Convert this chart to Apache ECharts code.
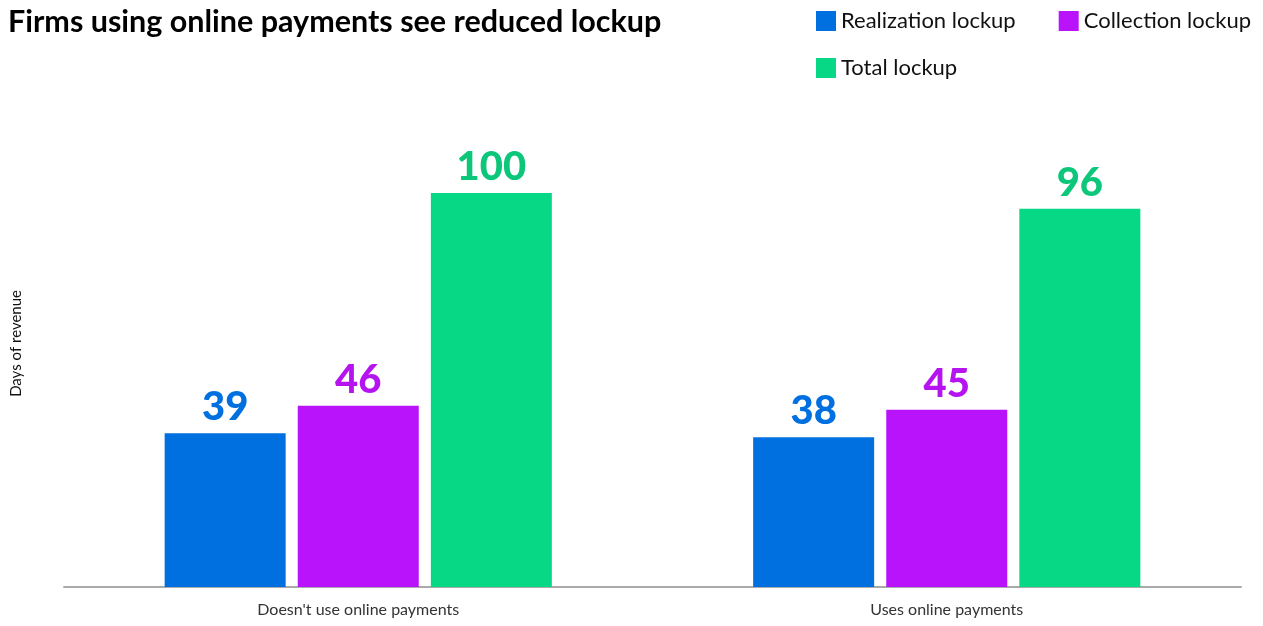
<!DOCTYPE html>
<html>
<head>
<meta charset="utf-8">
<script src="https://cdn.jsdelivr.net/npm/echarts@6/dist/echarts.min.js"></script>
<style>
  html, body { margin: 0; padding: 0; background: #fff; }
  #chart { width: 1263px; height: 626px; }
</style>
</head>
<body>
<div id="chart"></div>
<script>
const categories = ["Doesn't use online payments", 'Uses online payments'];
const seriesNames = ['Realization lockup', 'Collection lockup', 'Total lockup'];
const realization = [39, 38];
const collection = [46, 45];
const total = [100, 96];

const barColors = ['#0070e0', '#b813fb', '#06d886'];
const labelColors = ['#0070e0', '#b514f0', '#0cc67a'];
const font = 'Lato, "Noto Sans", sans-serif';

const chart = echarts.init(document.getElementById('chart'));

function makeSeries(name, data, i) {
  return {
    name: name,
    type: 'bar',
    data: data,
    barWidth: 121,
    barGap: '10%',
    itemStyle: { color: barColors[i] },
    label: {
      show: true,
      position: 'top',
      distance: 6,
      color: labelColors[i],
      fontFamily: font,
      fontWeight: 900,
      fontSize: 40
    }
  };
}

const legendBase = {
  orient: 'horizontal',
  itemWidth: 20,
  itemHeight: 20,
  itemGap: 43,
  icon: 'rect',
  textStyle: { color: '#111', fontFamily: font, fontSize: 22 }
};

const option = {
  animation: false,
  title: {
    text: 'Firms using online payments see reduced lockup',
    left: 3,
    top: 2,
    textStyle: { color: '#000', fontFamily: font, fontWeight: 'bold', fontSize: 30.5 }
  },
  legend: [
    Object.assign({}, legendBase, { left: 811, top: 5, data: seriesNames.slice(0, 2) }),
    Object.assign({}, legendBase, { left: 811, top: 52, data: seriesNames.slice(2) })
  ],
  graphic: [{
    type: 'text',
    left: 9,
    top: 290,
    rotation: Math.PI / 2,
    style: { text: 'Days of revenue', fill: '#111', font: '15px ' + font }
  }],
  grid: { left: 64, right: 22, top: 193, bottom: 39 },
  xAxis: {
    type: 'category',
    data: categories,
    axisLine: { lineStyle: { color: '#aaa', width: 2 } },
    axisTick: { show: false },
    axisLabel: { color: '#333', fontFamily: font, fontSize: 16, margin: 15 }
  },
  yAxis: {
    type: 'value',
    min: 0,
    max: 100,
    axisLabel: { show: false },
    axisLine: { show: false },
    axisTick: { show: false },
    splitLine: { show: false }
  },
  series: [
    makeSeries(seriesNames[0], realization, 0),
    makeSeries(seriesNames[1], collection, 1),
    makeSeries(seriesNames[2], total, 2)
  ]
};

chart.setOption(option);
</script>
</body>
</html>
